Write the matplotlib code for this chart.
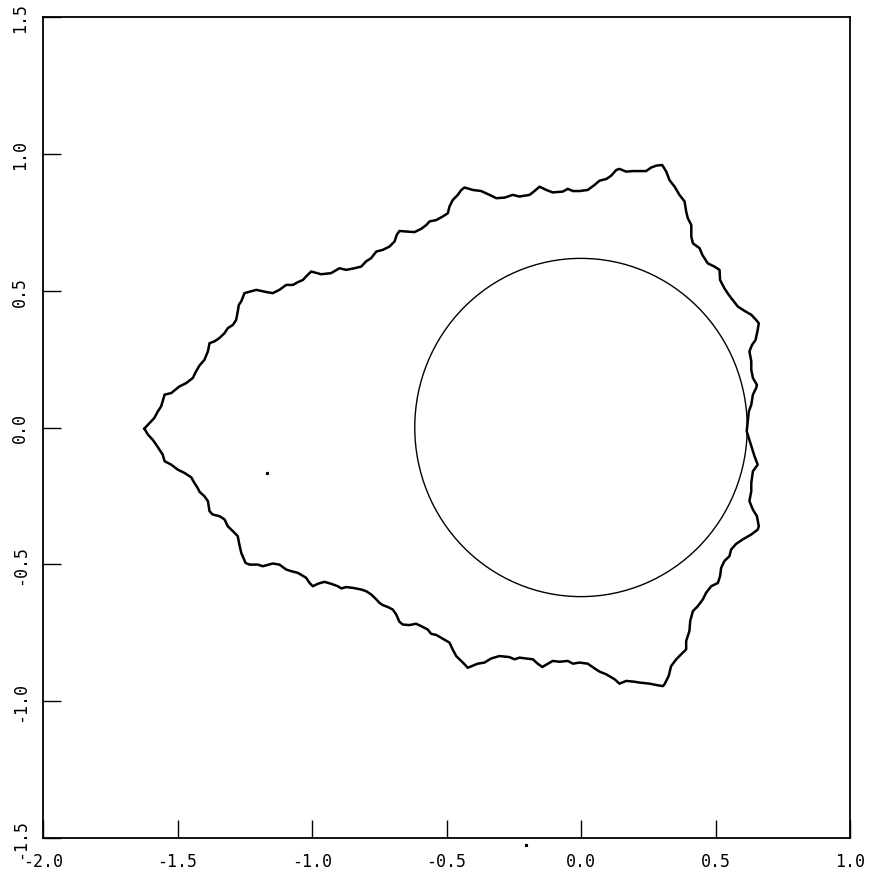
import matplotlib
matplotlib.use("Agg")
import matplotlib.pyplot as plt
from matplotlib.patches import Circle

# Fractal boundary (clockwise from the left tip)
boundary_x = [
    -1.623, -1.610, -1.586, -1.573, -1.561, -1.555, -1.548, -1.523, -1.493, -1.468,
    -1.443, -1.431, -1.418, -1.400, -1.387, -1.381, -1.362, -1.344, -1.325, -1.313,
    -1.294, -1.282, -1.276, -1.272, -1.263, -1.251, -1.207, -1.189, -1.170, -1.146,
    -1.121, -1.096, -1.071, -1.053, -1.034, -1.022, -1.003, -0.966, -0.929, -0.898,
    -0.873, -0.842, -0.817, -0.799, -0.780, -0.761, -0.737, -0.712, -0.693, -0.685,
    -0.675, -0.644, -0.619, -0.594, -0.575, -0.563, -0.538, -0.514, -0.495, -0.489,
    -0.477, -0.458, -0.445, -0.433, -0.402, -0.371, -0.340, -0.315, -0.284, -0.254,
    -0.229, -0.191, -0.173, -0.154, -0.129, -0.105, -0.068, -0.049, -0.030, -0.006,
    0.025, 0.050, 0.069, 0.094, 0.112, 0.131, 0.143, 0.168, 0.193, 0.242,
    0.261, 0.280, 0.302, 0.317, 0.329, 0.348, 0.366, 0.385, 0.391, 0.397,
    0.410, 0.410, 0.416, 0.441, 0.451, 0.471, 0.496, 0.515, 0.517, 0.533,
    0.549, 0.564, 0.583, 0.608, 0.633, 0.651, 0.661, 0.657, 0.649, 0.636,
    0.626, 0.633, 0.633, 0.639, 0.654, 0.651, 0.639, 0.633, 0.624, 0.620,
    0.616, 0.626, 0.645, 0.657, 0.639, 0.633, 0.633, 0.626, 0.639, 0.654,
    0.661, 0.657, 0.633, 0.601, 0.577, 0.558, 0.552, 0.533, 0.521, 0.517,
    0.509, 0.484, 0.465, 0.453, 0.434, 0.416, 0.406, 0.403, 0.391, 0.391,
    0.372, 0.354, 0.335, 0.326, 0.310, 0.304, 0.280, 0.255, 0.217, 0.199,
    0.168, 0.143, 0.125, 0.094, 0.069, 0.050, 0.025, -0.006, -0.030, -0.049,
    -0.080, -0.105, -0.123, -0.144, -0.161, -0.179, -0.204, -0.229, -0.247, -0.266,
    -0.303, -0.334, -0.359, -0.384, -0.421, -0.439, -0.464, -0.477, -0.489, -0.520,
    -0.538, -0.557, -0.570, -0.594, -0.613, -0.638, -0.662, -0.675, -0.687, -0.700,
    -0.718, -0.737, -0.749, -0.761, -0.780, -0.799, -0.817, -0.848, -0.873, -0.891,
    -0.904, -0.929, -0.954, -0.978, -0.997, -1.009, -1.022, -1.046, -1.053, -1.077,
    -1.096, -1.121, -1.146, -1.183, -1.201, -1.232, -1.247, -1.263, -1.270, -1.276,
    -1.294, -1.313, -1.325, -1.344, -1.369, -1.381, -1.387, -1.400, -1.418, -1.425,
    -1.437, -1.449, -1.474, -1.499, -1.523, -1.548, -1.555, -1.567, -1.579, -1.592,
    -1.610, -1.623,
]
boundary_y = [
    -0.004, 0.010, 0.035, 0.059, 0.077, 0.096, 0.120, 0.126, 0.150, 0.162,
    0.181, 0.205, 0.227, 0.247, 0.278, 0.308, 0.315, 0.327, 0.345, 0.363,
    0.375, 0.393, 0.424, 0.448, 0.461, 0.491, 0.503, 0.499, 0.495, 0.491,
    0.503, 0.521, 0.521, 0.531, 0.539, 0.552, 0.570, 0.560, 0.564, 0.582,
    0.576, 0.582, 0.588, 0.607, 0.619, 0.643, 0.649, 0.661, 0.680, 0.704,
    0.718, 0.716, 0.714, 0.726, 0.740, 0.753, 0.758, 0.771, 0.783, 0.807,
    0.831, 0.850, 0.868, 0.877, 0.868, 0.864, 0.850, 0.838, 0.840, 0.850,
    0.844, 0.850, 0.864, 0.880, 0.868, 0.859, 0.862, 0.872, 0.864, 0.864,
    0.868, 0.886, 0.902, 0.908, 0.920, 0.941, 0.945, 0.935, 0.937, 0.937,
    0.950, 0.957, 0.959, 0.935, 0.904, 0.880, 0.850, 0.826, 0.789, 0.765,
    0.740, 0.698, 0.673, 0.655, 0.631, 0.600, 0.588, 0.576, 0.539, 0.509,
    0.485, 0.466, 0.442, 0.426, 0.412, 0.393, 0.381, 0.357, 0.320, 0.302,
    0.278, 0.242, 0.211, 0.181, 0.156, 0.144, 0.120, 0.083, 0.059, 0.023,
    -0.014, -0.045, -0.105, -0.136, -0.160, -0.203, -0.233, -0.269, -0.300, -0.324,
    -0.361, -0.373, -0.391, -0.409, -0.425, -0.446, -0.470, -0.488, -0.513, -0.543,
    -0.568, -0.580, -0.604, -0.628, -0.653, -0.671, -0.707, -0.744, -0.780, -0.811,
    -0.829, -0.847, -0.872, -0.908, -0.939, -0.945, -0.941, -0.936, -0.932, -0.929,
    -0.926, -0.936, -0.920, -0.902, -0.892, -0.880, -0.863, -0.859, -0.863, -0.853,
    -0.856, -0.853, -0.863, -0.875, -0.863, -0.847, -0.844, -0.841, -0.847, -0.839,
    -0.835, -0.844, -0.859, -0.863, -0.878, -0.859, -0.835, -0.811, -0.786, -0.768,
    -0.758, -0.754, -0.738, -0.726, -0.717, -0.722, -0.720, -0.710, -0.683, -0.665,
    -0.656, -0.649, -0.641, -0.628, -0.610, -0.598, -0.592, -0.586, -0.583, -0.588,
    -0.580, -0.571, -0.564, -0.571, -0.580, -0.568, -0.549, -0.535, -0.531, -0.525,
    -0.519, -0.501, -0.497, -0.507, -0.501, -0.501, -0.495, -0.458, -0.428, -0.397,
    -0.379, -0.361, -0.336, -0.324, -0.318, -0.306, -0.269, -0.251, -0.235, -0.221,
    -0.203, -0.182, -0.166, -0.154, -0.136, -0.123, -0.099, -0.081, -0.063, -0.045,
    -0.026, -0.004,
]

circle_center = (0.0, 0.0)
circle_radius = 0.618

stray_x = [-1.168, -0.203]
stray_y = [-0.166, -1.524]

x_ticks = [-2.0, -1.5, -1.0, -0.5, 0.0, 0.5, 1.0]
y_ticks = [-1.5, -1.0, -0.5, 0.0, 0.5, 1.0, 1.5]
x_ticklabels = ["-2.0", "-1.5", "-1.0", "-0.5", "0.0", "0.5", "1.0"]
y_ticklabels = ["-1.5", "-1.0", "-0.5", "0.0", "0.5", "1.0", "1.5"]

plt.rcParams["axes.unicode_minus"] = False
plt.rcParams["font.family"] = ["DejaVu Sans Mono"]

fig = plt.figure(figsize=(8.71, 8.78), dpi=100)
ax = fig.add_axes([43 / 871, 39 / 878, 807 / 871, 821 / 878])

ax.plot(boundary_x, boundary_y, color="black", lw=1.8, solid_joinstyle="round")
ax.add_patch(Circle(circle_center, circle_radius, fill=False, edgecolor="black", lw=1.0))
ax.plot(stray_x, stray_y, ls="none", marker="s", ms=1.3, color="black", clip_on=False)

ax.set_xlim(-2.0, 1.0)
ax.set_ylim(-1.5, 1.5)
ax.set_xticks(x_ticks)
ax.set_xticklabels(x_ticklabels)
ax.set_yticks(y_ticks)
ax.set_yticklabels(y_ticklabels, rotation=90, va="center")

ax.tick_params(axis="both", direction="in", length=13, width=1.0, labelsize=12,
               top=False, right=False)
ax.tick_params(axis="x", pad=10)
ax.tick_params(axis="y", pad=10)
for s in ax.spines.values():
    s.set_linewidth(1.3)

fig.savefig("out.png", dpi=100, facecolor="white")
